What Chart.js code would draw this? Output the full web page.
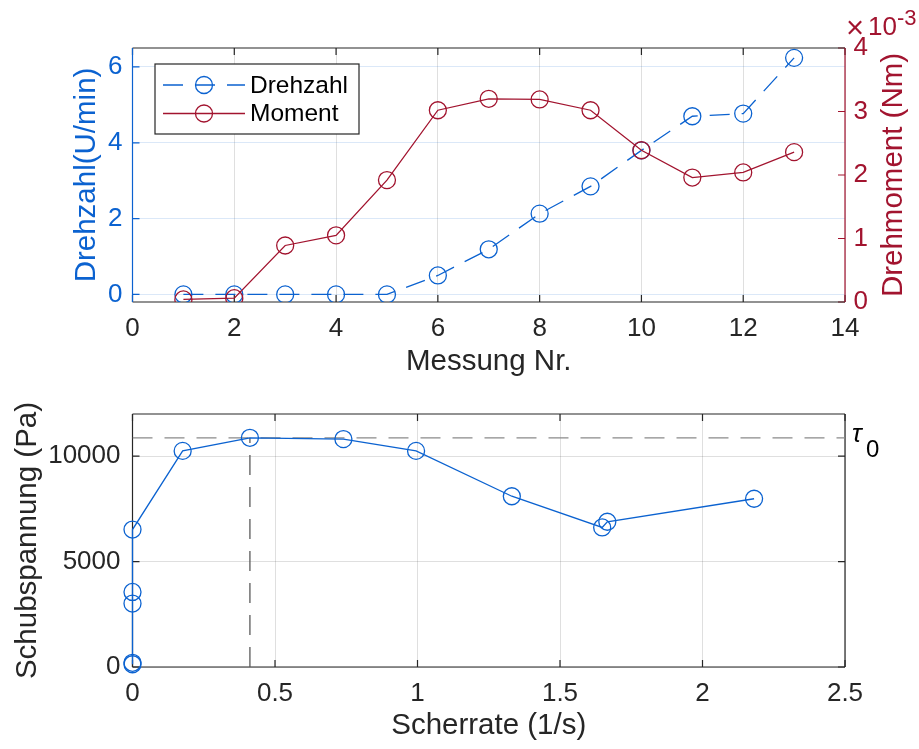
<!DOCTYPE html>
<html lang="de">
<head>
<meta charset="utf-8">
<title>Drehzahl, Moment und Schubspannung</title>
<script src="https://cdn.jsdelivr.net/npm/chart.js@4.4.1/dist/chart.umd.min.js"></script>
<style>
  html, body { margin: 0; padding: 0; background: #fff; }
  canvas.panel { position: absolute; left: 0; }
</style>
</head>
<body>
<canvas id="oben" class="panel" style="top:0" width="919" height="380"></canvas>
<canvas id="unten" class="panel" style="top:380px" width="919" height="369"></canvas>
<script>
// Messreihe: Nummer der Messung, Drehzahl und Drehmoment
const messungNr = [1, 2, 3, 4, 5, 6, 7, 8, 9, 10, 11, 12, 13];
const drehzahl = [0, 0, 0, 0, 0, 0.50, 1.19, 2.13, 2.85, 3.80, 4.70, 4.77, 6.24];            // U/min
const drehmoment = [0.04e-3, 0.06e-3, 0.89e-3, 1.05e-3, 1.92e-3, 3.02e-3, 3.20e-3,
                    3.19e-3, 3.02e-3, 2.39e-3, 1.96e-3, 2.04e-3, 2.36e-3];                     // Nm

// Fliesskurve aus derselben Messreihe
const scherrate = [0, 0, 0, 0, 0, 0.176, 0.412, 0.740, 0.995, 1.331, 1.648, 1.666, 2.181];    // 1/s
const schubspannung = [130, 200, 3010, 3560, 6520, 10250, 10870, 10810, 10250, 8100, 6620, 6890, 7980]; // Pa
const tau0 = 10870;            // Fliessgrenze in Pa
const tau0Scherrate = 0.412;   // Scherrate beim Erreichen der Fliessgrenze

// Achsenteilungen
const messungTicks = [0, 2, 4, 6, 8, 10, 12, 14];
const drehzahlTicks = [0, 2, 4, 6];
const drehmomentTicks = [0, 1, 2, 3, 4];        // in 10^-3 Nm
const scherrateTicks = [0, 0.5, 1, 1.5, 2, 2.5];
const schubspannungTicks = [0, 5000, 10000];

const BLAU = '#0b62d0';
const ROT = '#a2142f';
const ACHSE = '#262626';
const GITTER = 'rgba(38,38,38,0.15)';
const GITTER_BLAU = 'rgba(11,98,208,0.15)';
const FONT = "'Liberation Sans', Arial, Helvetica, sans-serif";
const TICK_FONT = { family: FONT, size: 26 };
const TITEL_FONT = { family: FONT, size: 29.5 };

Chart.defaults.font.family = FONT;

const setzeTicks = werte => scale => { scale.ticks = werte.map(v => ({ value: v })); };
const alsText = v => String(v);

// Achsenrahmen mit nach innen zeigenden Teilstrichen
const achsenRahmen = {
  id: 'achsenRahmen',
  beforeDatasetsDraw(chart, args, opts) {
    const { ctx, chartArea: a } = chart;
    const L = 7;
    ctx.save();
    ctx.lineWidth = 1.2;
    ctx.lineCap = 'butt';

    const xs = chart.scales.x;
    ctx.strokeStyle = ACHSE;
    ctx.beginPath();
    for (const t of xs.ticks) {
      const p = xs.getPixelForValue(t.value);
      ctx.moveTo(p, a.bottom); ctx.lineTo(p, a.bottom - L);
      ctx.moveTo(p, a.top); ctx.lineTo(p, a.top + L);
    }
    ctx.stroke();

    const links = chart.scales[opts.links.scale];
    ctx.strokeStyle = opts.links.color;
    ctx.beginPath();
    for (const t of links.ticks) {
      const p = links.getPixelForValue(t.value);
      ctx.moveTo(a.left, p); ctx.lineTo(a.left + L, p);
    }
    ctx.stroke();

    const rechts = chart.scales[opts.rechts.scale];
    ctx.strokeStyle = opts.rechts.color;
    ctx.beginPath();
    for (const t of rechts.ticks) {
      const p = rechts.getPixelForValue(t.value);
      ctx.moveTo(a.right, p); ctx.lineTo(a.right - L, p);
    }
    ctx.stroke();

    // Rahmenlinien
    ctx.strokeStyle = ACHSE;
    ctx.beginPath();
    ctx.moveTo(a.left, a.top); ctx.lineTo(a.right, a.top);
    ctx.moveTo(a.left, a.bottom); ctx.lineTo(a.right, a.bottom);
    ctx.stroke();
    ctx.strokeStyle = opts.links.color;
    ctx.beginPath(); ctx.moveTo(a.left, a.top); ctx.lineTo(a.left, a.bottom); ctx.stroke();
    ctx.strokeStyle = opts.rechts.color;
    ctx.beginPath(); ctx.moveTo(a.right, a.top); ctx.lineTo(a.right, a.bottom); ctx.stroke();
    ctx.restore();
  }
};

// Legende innerhalb des Achsenfeldes
const legendeImFeld = {
  id: 'legendeImFeld',
  afterDraw(chart, args, opts) {
    const { ctx, chartArea: a } = chart;
    const x = a.left + opts.dx, y = a.top + opts.dy;
    ctx.save();
    ctx.fillStyle = '#fff';
    ctx.fillRect(x, y, opts.breite, opts.hoehe);
    ctx.strokeStyle = ACHSE;
    ctx.lineWidth = 1.2;
    ctx.strokeRect(x, y, opts.breite, opts.hoehe);
    opts.reihenfolge.forEach((idx, i) => {
      const ds = chart.data.datasets[idx];
      const cy = y + opts.ersteZeile + i * opts.zeilenAbstand;
      const x0 = x + 8, x1 = x + 90, cx = (x0 + x1) / 2;
      ctx.strokeStyle = ds.borderColor;
      ctx.lineWidth = ds.borderWidth;
      ctx.setLineDash(ds.borderDash || []);
      ctx.beginPath(); ctx.moveTo(x0, cy); ctx.lineTo(x1, cy); ctx.stroke();
      ctx.setLineDash([]);
      ctx.lineWidth = ds.pointBorderWidth;
      ctx.beginPath(); ctx.arc(cx, cy, ds.pointRadius, 0, Math.PI * 2); ctx.stroke();
      ctx.fillStyle = '#000';
      ctx.font = `24.5px ${FONT}`;
      ctx.textBaseline = 'middle';
      ctx.textAlign = 'left';
      ctx.fillText(ds.label, x + 95, cy + 1);
    });
    ctx.restore();
  }
};

// rechte Achsenbeschriftung (von unten nach oben gelesen) und Exponent
const rechteAchseText = {
  id: 'rechteAchseText',
  afterDraw(chart) {
    const { ctx, chartArea: a } = chart;
    ctx.save();
    ctx.fillStyle = ROT;
    ctx.font = `29.5px ${FONT}`;
    ctx.textAlign = 'center';
    ctx.textBaseline = 'middle';
    ctx.translate(a.right + 49, (a.top + a.bottom) / 2);
    ctx.rotate(-Math.PI / 2);
    ctx.fillText('Drehmoment (Nm)', 0, 0);
    ctx.restore();

    ctx.save();
    ctx.fillStyle = ROT;
    ctx.textAlign = 'left';
    ctx.textBaseline = 'alphabetic';
    ctx.font = `31px ${FONT}`;
    ctx.fillText('\u00d7', a.right + 1, a.top - 10);
    ctx.font = `26px ${FONT}`;
    ctx.fillText('10', a.right + 23, a.top - 13);
    ctx.font = `22px ${FONT}`;
    ctx.fillText('-3', a.right + 52, a.top - 23);
    ctx.restore();
  }
};

// Beschriftung der Fliessgrenze rechts neben dem Achsenfeld
const tauText = {
  id: 'tauText',
  afterDraw(chart) {
    const { ctx, chartArea: a } = chart;
    const py = chart.scales.y.getPixelForValue(tau0);
    ctx.save();
    ctx.fillStyle = '#000';
    ctx.textAlign = 'left';
    ctx.textBaseline = 'alphabetic';
    ctx.font = `italic 26px ${FONT}`;
    ctx.fillText('\u03c4', a.right + 7, py + 4);
    ctx.font = `24px ${FONT}`;
    ctx.fillText('0', a.right + 21, py + 19);
    ctx.restore();
  }
};

const punkte = (xs, ys) => xs.map((x, i) => ({ x, y: ys[i] }));

new Chart(document.getElementById('oben'), {
  type: 'line',
  data: {
    datasets: [
      {
        label: 'Drehzahl',
        data: punkte(messungNr, drehzahl),
        yAxisID: 'y',
        borderColor: BLAU,
        borderWidth: 1.3,
        borderDash: [20, 12],
        pointRadius: 8.5,
        pointBorderWidth: 1.3,
        pointBorderColor: BLAU,
        pointBackgroundColor: 'rgba(0,0,0,0)',
        tension: 0,
        order: 1
      },
      {
        label: 'Moment',
        data: punkte(messungNr, drehmoment),
        yAxisID: 'y1',
        borderColor: ROT,
        borderWidth: 1.3,
        pointRadius: 8.5,
        pointBorderWidth: 1.3,
        pointBorderColor: ROT,
        pointBackgroundColor: 'rgba(0,0,0,0)',
        tension: 0,
        order: 0
      }
    ]
  },
  options: {
    responsive: false,
    animation: false,
    devicePixelRatio: 1,
    events: [],
    layout: { padding: { top: 48, left: 0, right: 0, bottom: 0 } },
    plugins: {
      legend: { display: false },
      tooltip: { enabled: false },
      achsenRahmen: { links: { scale: 'y', color: BLAU }, rechts: { scale: 'y1', color: ROT } },
      legendeImFeld: { dx: 22.5, dy: 16, breite: 204, hoehe: 70, ersteZeile: 21, zeilenAbstand: 28.5, reihenfolge: [0, 1] }
    },
    scales: {
      x: {
        type: 'linear', position: 'bottom', min: 0, max: 14,
        afterBuildTicks: setzeTicks(messungTicks),
        afterFit: s => { s.height = 78; },
        grid: { color: GITTER, lineWidth: 1, drawTicks: false },
        border: { display: false },
        ticks: { color: ACHSE, font: TICK_FONT, padding: 11, callback: alsText, maxRotation: 0 },
        title: { display: true, text: 'Messung Nr.', color: ACHSE, font: TITEL_FONT, padding: { top: 0, bottom: 0 } }
      },
      y: {
        type: 'linear', position: 'left', min: -0.2, max: 6.5,
        afterBuildTicks: setzeTicks(drehzahlTicks),
        afterFit: s => { s.width = 132.5; },
        grid: { color: GITTER_BLAU, lineWidth: 1, drawTicks: false },
        border: { display: false },
        ticks: { color: BLAU, font: TICK_FONT, padding: 10, callback: alsText },
        title: { display: true, text: 'Drehzahl(U/min)', color: BLAU, font: TITEL_FONT, padding: { top: 69, bottom: 0 } }
      },
      y1: {
        type: 'linear', position: 'right', min: 0, max: 4e-3,
        afterBuildTicks: setzeTicks(drehmomentTicks.map(v => v * 1e-3)),
        afterFit: s => { s.width = 74; },
        grid: { display: false, drawTicks: false },
        border: { display: false },
        ticks: { color: ROT, font: TICK_FONT, padding: 8.5, callback: v => String(Math.round(v * 1e3)) }
      }
    }
  },
  plugins: [achsenRahmen, legendeImFeld, rechteAchseText]
});

new Chart(document.getElementById('unten'), {
  type: 'line',
  data: {
    datasets: [
      {
        label: 'Schubspannung',
        data: punkte(scherrate, schubspannung),
        borderColor: BLAU,
        borderWidth: 1.3,
        pointRadius: 8.5,
        pointBorderWidth: 1.3,
        pointBorderColor: BLAU,
        pointBackgroundColor: 'rgba(0,0,0,0)',
        tension: 0,
        clip: false
      },
      {
        label: 'Fliessgrenze',
        data: [{ x: scherrateTicks[0], y: tau0 }, { x: scherrateTicks[scherrateTicks.length - 1], y: tau0 }],
        borderColor: '#8a8a8a',
        borderWidth: 1.3,
        borderDash: [20, 12],
        pointRadius: 0,
        tension: 0
      },
      {
        label: 'Scherrate bei Fliessgrenze',
        data: [{ x: tau0Scherrate, y: 0 }, { x: tau0Scherrate, y: tau0 }],
        borderColor: '#5a5a5a',
        borderWidth: 1.3,
        borderDash: [20, 12],
        pointRadius: 0,
        tension: 0
      }
    ]
  },
  options: {
    responsive: false,
    animation: false,
    devicePixelRatio: 1,
    events: [],
    layout: { padding: { top: 34, left: 0, right: 74, bottom: 0 } },
    plugins: {
      legend: { display: false },
      tooltip: { enabled: false },
      achsenRahmen: { links: { scale: 'y', color: ACHSE }, rechts: { scale: 'y', color: ACHSE } }
    },
    scales: {
      x: {
        type: 'linear', position: 'bottom', min: 0, max: 2.5,
        afterBuildTicks: setzeTicks(scherrateTicks),
        afterFit: s => { s.height = 82; },
        grid: { color: GITTER, lineWidth: 1, drawTicks: false },
        border: { display: false },
        ticks: { color: ACHSE, font: TICK_FONT, padding: 11, callback: alsText, maxRotation: 0 },
        title: { display: true, text: 'Scherrate (1/s)', color: ACHSE, font: TITEL_FONT, padding: { top: 0, bottom: 5 } }
      },
      y: {
        type: 'linear', position: 'left', min: 0, max: 12000,
        afterBuildTicks: setzeTicks(schubspannungTicks),
        afterFit: s => { s.width = 132.5; },
        grid: { color: GITTER, lineWidth: 1, drawTicks: false },
        border: { display: false },
        ticks: { color: ACHSE, font: TICK_FONT, padding: 12, callback: alsText },
        title: { display: true, text: 'Schubspannung (Pa)', color: ACHSE, font: TITEL_FONT, padding: { top: 10, bottom: 0 } }
      }
    }
  },
  plugins: [achsenRahmen, tauText]
});
</script>
</body>
</html>
